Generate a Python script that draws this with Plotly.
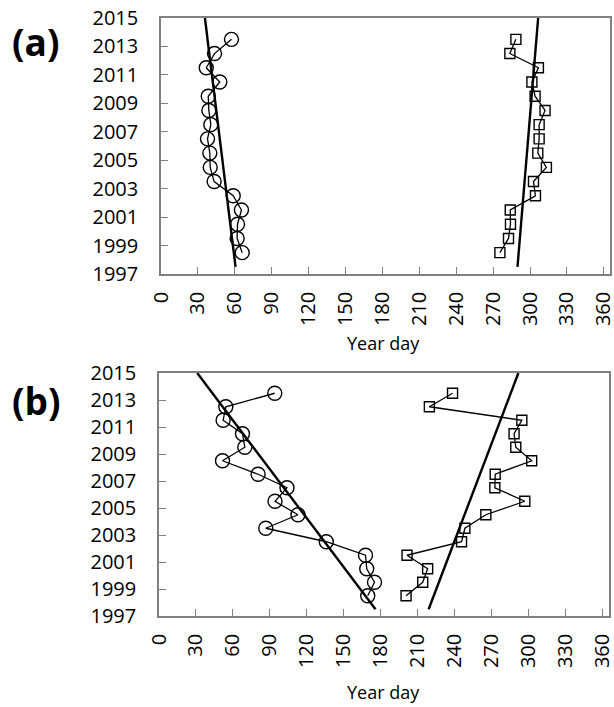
import plotly.graph_objects as go

years = [1998.5, 1999.5, 2000.5, 2001.5, 2002.5, 2003.5, 2004.5, 2005.5,
         2006.5, 2007.5, 2008.5, 2009.5, 2010.5, 2011.5, 2012.5, 2013.5]

# Panel (a)
a_start = [66.0, 61.9, 62.2, 65.4, 58.7, 43.2, 40.0, 39.7,
           37.8, 40.5, 38.9, 38.4, 47.8, 36.8, 43.5, 57.3]
a_end = [275.5, 282.5, 284.1, 283.9, 304.4, 302.8, 313.3, 306.3,
         307.4, 307.4, 312.2, 304.1, 301.5, 306.8, 283.6, 288.5]
# Panel (b)
b_start = [169.3, 174.8, 168.5, 167.5, 135.7, 86.6, 112.7, 94.1,
           103.8, 80.4, 51.5, 69.6, 67.7, 52.0, 54.2, 93.9]
b_end = [200.4, 213.9, 217.9, 201.2, 245.4, 248.1, 265.1, 296.7,
         272.4, 272.7, 302.3, 289.4, 288.0, 294.3, 219.3, 238.1]

trend_years = [1997.5, 2015.0]
a_start_trend = [60.6, 35.7]
a_end_trend = [289.8, 306.6]
b_start_trend = [175.6, 31.0]
b_end_trend = [218.7, 291.5]

x_ticks = list(range(0, 361, 30))
y_ticks = list(range(1997, 2016, 2))

FONT = "Open Sans"
fig = go.Figure()

def add_panel(xa, ya, start, end, st, et):
    fig.add_trace(go.Scatter(x=start, y=years, mode="lines+markers",
                             line=dict(color="black", width=1.3),
                             marker=dict(symbol="circle-open", size=14,
                                         color="black", line=dict(width=1.4)),
                             xaxis=xa, yaxis=ya, showlegend=False))
    fig.add_trace(go.Scatter(x=end, y=years, mode="lines+markers",
                             line=dict(color="black", width=1.3),
                             marker=dict(symbol="square-open", size=10,
                                         color="black", line=dict(width=1.4)),
                             xaxis=xa, yaxis=ya, showlegend=False))
    for t in (st, et):
        fig.add_trace(go.Scatter(x=t, y=trend_years, mode="lines",
                                 line=dict(color="black", width=2.4),
                                 xaxis=xa, yaxis=ya, showlegend=False))

add_panel("x", "y", a_start, a_end, a_start_trend, a_end_trend)
add_panel("x2", "y2", b_start, b_end, b_start_trend, b_end_trend)

W, H = 614, 707
def xaxis(dom, anchor):
    return dict(domain=dom, anchor=anchor, range=[0, 365], tickvals=x_ticks,
                ticktext=[str(v) for v in x_ticks], tickangle=-90,
                ticks="inside", ticklen=7, tickcolor="#808080",
                showline=True, linecolor="#808080", linewidth=1.5, mirror=True,
                showgrid=False, zeroline=False, ticklabelstandoff=8,
                ticklabeloverflow="allow", automargin=False,
                tickfont=dict(family=FONT, size=20, color="black"))

def yaxis(dom, anchor):
    return dict(domain=dom, anchor=anchor, range=[1997, 2015], tickvals=y_ticks,
                ticks="inside", ticklen=7, tickcolor="#808080",
                showline=True, linecolor="#808080", linewidth=1.5, mirror=True,
                showgrid=False, zeroline=False, ticklabelstandoff=17,
                ticklabeloverflow="allow", automargin=False,
                tickfont=dict(family=FONT, size=20, color="black"))

def label(text, x, y, size):
    return dict(text=text, x=x / W, y=1 - y / H, xref="paper", yref="paper",
                xanchor="center", yanchor="middle", showarrow=False,
                font=dict(family=FONT, size=size, color="black"))

fig.update_layout(
    width=W, height=H, margin=dict(l=0, r=0, t=0, b=0, autoexpand=False),
    paper_bgcolor="white", plot_bgcolor="white",
    xaxis=xaxis([161 / W, 610 / W], "y"),
    yaxis=yaxis([1 - 274 / H, 1 - 18 / H], "x"),
    xaxis2=xaxis([159 / W, 609 / W], "y2"),
    yaxis2=yaxis([1 - 616 / H, 1 - 373 / H], "x2"),
    annotations=[
        label("<b>(a)</b>", 35, 41, 37),
        label("<b>(b)</b>", 36, 400, 37),
        label("Year day", 384, 343, 18),
        label("Year day", 384, 692, 18),
    ],
)

fig.write_html("out.html")
